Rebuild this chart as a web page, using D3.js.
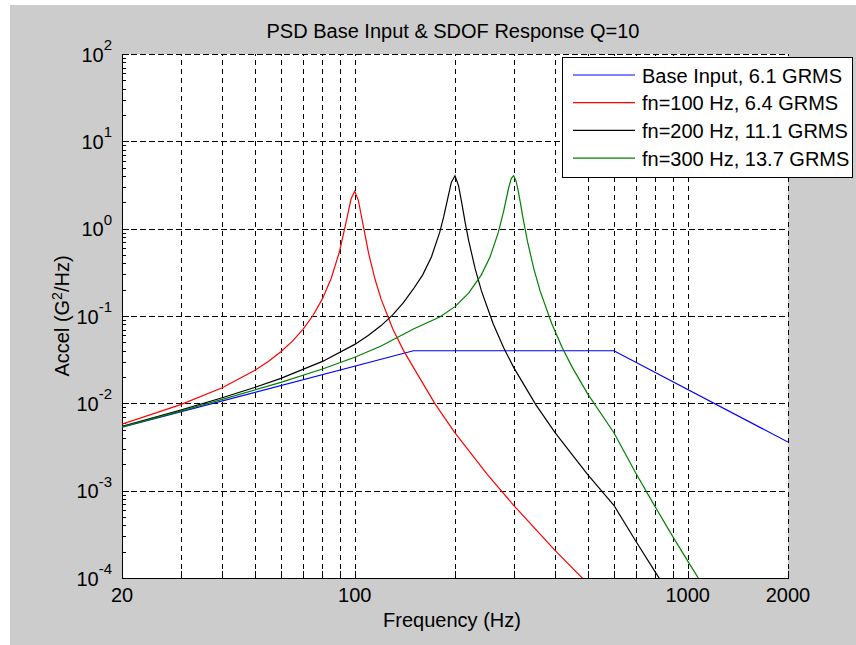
<!DOCTYPE html>
<html>
<head>
<meta charset="utf-8">
<script src="https://cdn.jsdelivr.net/npm/d3@7"></script>
<style>
  html, body { margin: 0; padding: 0; background: #ffffff; }
  text { font-family: "Liberation Sans", Arial, sans-serif; fill: #000; }
</style>
</head>
<body>
<div id="chart"></div>
<script>
// base input PSD (G^2/Hz) breakpoints
const baseFreq = [20, 150, 600, 2000];
const basePsd = [0.00533, 0.04, 0.04, 0.0036];

// SDOF responses
const fn100Freq = [20, 30, 40, 50, 55, 60, 65, 70, 75, 80, 85, 90, 95, 97.5, 100, 102.5, 105, 110, 115, 120, 130, 140, 150, 175, 200, 250, 300, 400, 500];
const fn100Psd = [0.00579, 0.00966, 0.0151, 0.0237, 0.0301, 0.0389, 0.0515, 0.0708, 0.102, 0.158, 0.271, 0.547, 1.38, 2.2, 2.69, 2.11, 1.32, 0.528, 0.265, 0.156, 0.0715, 0.0404, 0.0258, 0.00962, 0.0046, 0.00154, 0.00068, 0.000206, 0.0000868];

const fn200Freq = [20, 30, 40, 50, 60, 80, 100, 110, 120, 130, 140, 150, 160, 170, 180, 185, 190, 195, 200, 205, 210, 215, 220, 230, 240, 260, 280, 300, 350, 400, 500, 600, 700, 800, 850];
const fn200Psd = [0.00544, 0.00837, 0.0116, 0.0152, 0.0193, 0.0302, 0.0473, 0.0601, 0.0777, 0.103, 0.142, 0.204, 0.296, 0.478, 0.912, 1.37, 2.18, 3.38, 4.04, 3.09, 1.88, 1.13, 0.72, 0.346, 0.195, 0.0825, 0.0433, 0.0258, 0.00962, 0.0046, 0.00154, 0.00068, 0.00026, 0.000116, 0.0000808];

const fn300Freq = [20, 30, 40, 60, 80, 100, 120, 150, 180, 200, 220, 240, 255, 270, 280, 285, 290, 295, 300, 305, 310, 315, 320, 330, 345, 360, 390, 420, 450, 500, 600, 700, 800, 900, 1000, 1100];
const fn300Psd = [0.00538, 0.00816, 0.0111, 0.0174, 0.0247, 0.0337, 0.0453, 0.071, 0.0972, 0.128, 0.184, 0.296, 0.478, 0.912, 1.59, 2.18, 2.96, 3.75, 4.04, 3.53, 2.65, 1.88, 1.33, 0.72, 0.346, 0.195, 0.0825, 0.0433, 0.0258, 0.0129, 0.0046, 0.00156, 0.000644, 0.000302, 0.000156, 0.0000871];

const seriesNames = ["Base Input, 6.1 GRMS", "fn=100 Hz, 6.4 GRMS", "fn=200 Hz, 11.1 GRMS", "fn=300 Hz, 13.7 GRMS"];
const seriesColors = ["#0000ff", "#ff0000", "#000000", "#008000"];

// axis ticks
const xGridVals = [30, 40, 50, 60, 70, 80, 90, 100, 200, 300, 400, 500, 600, 700, 800, 900, 1000, 2000];
const xTickLabels = [20, 100, 1000, 2000];
const yExponents = [-4, -3, -2, -1, 0, 1, 2];

const width = 856, height = 645;
const plotL = 122, plotR = 788, plotT = 54, plotB = 578;
const font = "20px";

const svg = d3.select("#chart").append("svg")
  .attr("width", width)
  .attr("height", height);

// figure background (grey with thin white strip top/left)
svg.append("rect").attr("x", 10).attr("y", 5)
  .attr("width", width - 10).attr("height", height - 5)
  .attr("fill", "#cccccc");

svg.append("rect").attr("x", plotL).attr("y", plotT)
  .attr("width", plotR - plotL).attr("height", plotB - plotT)
  .attr("fill", "#ffffff");

const x = d3.scaleLog().domain([20, 2000]).range([plotL, plotR]);
const y = d3.scaleLog().domain([1e-4, 1e2]).range([plotB, plotT]);

const yMajor = yExponents.map(e => Math.pow(10, e));
const yMinor = [];
yExponents.slice(0, -1).forEach(e => {
  for (let k = 2; k <= 9; k++) yMinor.push(k * Math.pow(10, e));
});

// dashed grid
const xGrid = svg.append("g")
  .attr("transform", `translate(0, ${plotB})`)
  .call(d3.axisBottom(x).tickValues(xGridVals).tickSize(-(plotB - plotT)).tickFormat(""));
xGrid.select(".domain").remove();
xGrid.selectAll("line").attr("stroke", "#000").attr("stroke-dasharray", "5.5,3.5");

const yGrid = svg.append("g")
  .attr("transform", `translate(${plotL}, 0)`)
  .call(d3.axisLeft(y).tickValues(yMajor.slice(1)).tickSize(-(plotR - plotL)).tickFormat(""));
yGrid.select(".domain").remove();
yGrid.selectAll("line").attr("stroke", "#000").attr("stroke-dasharray", "5.5,3.5");

// solid tick marks pointing inward
const xTicks = svg.append("g")
  .attr("transform", `translate(0, ${plotB})`)
  .call(d3.axisBottom(x).tickValues(xGridVals).tickSizeInner(-7).tickSizeOuter(0).tickFormat(""));
xTicks.select(".domain").attr("stroke", "#000");

const yTicks = svg.append("g")
  .attr("transform", `translate(${plotL}, 0)`)
  .call(d3.axisLeft(y).tickValues(yMajor).tickSizeInner(-7).tickSizeOuter(0).tickFormat(""));
yTicks.select(".domain").attr("stroke", "#000");

svg.append("g")
  .attr("transform", `translate(${plotL}, 0)`)
  .call(d3.axisLeft(y).tickValues(yMinor).tickSizeInner(-4).tickSizeOuter(0).tickFormat(""))
  .select(".domain").remove();

svg.selectAll(".tick line").attr("stroke-width", 1).attr("shape-rendering", "crispEdges");
svg.selectAll(".domain").attr("shape-rendering", "crispEdges");

// tick labels
svg.append("g").selectAll("text")
  .data(xTickLabels)
  .enter().append("text")
  .attr("x", d => x(d))
  .attr("y", 602)
  .attr("text-anchor", "middle")
  .style("font-size", font)
  .text(d => d);

const yLab = svg.append("g").selectAll("text")
  .data(yExponents)
  .enter().append("text")
  .attr("x", 112)
  .attr("y", d => y(Math.pow(10, d)) + 7.5)
  .attr("text-anchor", "end")
  .style("font-size", font);
yLab.append("tspan").text("10");
yLab.append("tspan")
  .attr("dy", -11.5)
  .style("font-size", "15px")
  .text(d => d);

// curves
svg.append("clipPath").attr("id", "plotClip")
  .append("rect").attr("x", plotL).attr("y", plotT)
  .attr("width", plotR - plotL).attr("height", plotB - plotT);

const line = d3.line().x(d => x(d[0])).y(d => y(d[1]));
const curves = [
  d3.zip(baseFreq, basePsd),
  d3.zip(fn100Freq, fn100Psd),
  d3.zip(fn200Freq, fn200Psd),
  d3.zip(fn300Freq, fn300Psd)
];

svg.append("g").attr("clip-path", "url(#plotClip)")
  .selectAll("path")
  .data(curves)
  .enter().append("path")
  .attr("d", line)
  .attr("fill", "none")
  .attr("stroke", (d, i) => seriesColors[i])
  .attr("stroke-width", 1.2);

// titles
svg.append("text")
  .attr("x", 453).attr("y", 38)
  .attr("text-anchor", "middle")
  .style("font-size", font)
  .text("PSD Base Input & SDOF Response Q=10");

svg.append("text")
  .attr("x", 452).attr("y", 627)
  .attr("text-anchor", "middle")
  .style("font-size", font)
  .text("Frequency (Hz)");

const yTitle = svg.append("text")
  .attr("transform", "translate(69, 316) rotate(-90)")
  .attr("text-anchor", "middle")
  .style("font-size", font);
yTitle.append("tspan").text("Accel (G");
yTitle.append("tspan").attr("dy", -7).style("font-size", "14px").text("2");
yTitle.append("tspan").attr("dy", 7).text("/Hz)");

// legend
const legend = svg.append("g");
legend.append("rect")
  .attr("x", 562.5).attr("y", 57.5)
  .attr("width", 290).attr("height", 120)
  .attr("fill", "#ffffff")
  .attr("stroke", "#000")
  .attr("shape-rendering", "crispEdges");

const rows = legend.selectAll("g.row")
  .data(seriesNames)
  .enter().append("g")
  .attr("class", "row")
  .attr("transform", (d, i) => `translate(0, ${75 + i * 27.7})`);

rows.append("line")
  .attr("x1", 573).attr("x2", 635)
  .attr("stroke", (d, i) => seriesColors[i])
  .attr("stroke-width", 1.2);

rows.append("text")
  .attr("x", 642).attr("y", 7.5)
  .style("font-size", font)
  .text(d => d);
</script>
</body>
</html>
